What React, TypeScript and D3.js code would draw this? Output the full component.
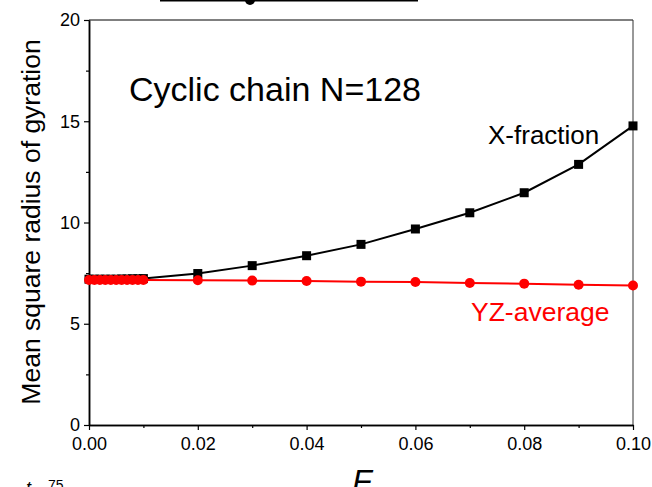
import React, { useEffect, useRef } from 'react';
import * as d3 from 'd3';

// F values (shared by both series)
const fValues = [0, 0.001, 0.002, 0.003, 0.004, 0.005, 0.006, 0.007, 0.008, 0.009, 0.01,
  0.02, 0.03, 0.04, 0.05, 0.06, 0.07, 0.08, 0.09, 0.1];
const xFraction = [7.2, 7.2, 7.2, 7.2, 7.2, 7.2, 7.21, 7.21, 7.22, 7.22, 7.23,
  7.48, 7.87, 8.36, 8.92, 9.68, 10.48, 11.47, 12.87, 14.77];
const yzAverage = [7.16, 7.16, 7.16, 7.16, 7.16, 7.16, 7.16, 7.16, 7.16, 7.16, 7.16,
  7.15, 7.13, 7.11, 7.08, 7.06, 7.01, 6.98, 6.93, 6.89];
const xTicks = [0, 0.02, 0.04, 0.06, 0.08, 0.1];
const xMinor = [0.01, 0.03, 0.05, 0.07, 0.09];
const yTicks = [0, 5, 10, 15, 20];
const yMinor = [2.5, 7.5, 12.5, 17.5];

const W = 652;
const H = 487;

export default function App() {
  const ref = useRef<SVGSVGElement>(null);

  useEffect(() => {
    const svg = d3.select(ref.current);
    svg.selectAll('*').remove();
    const font = 'Arial, "Liberation Sans", sans-serif';

    const x = d3.scaleLinear().domain([0, 0.1]).range([89, 633]);
    const y = d3.scaleLinear().domain([0, 20]).range([425, 20]);

    // remnants of the figure above
    svg.append('line').attr('x1', 160).attr('x2', 418).attr('y1', 0.5).attr('y2', 0.5)
      .attr('stroke', '#000').attr('stroke-width', 2);
    svg.append('circle').attr('cx', 250).attr('cy', 0).attr('r', 5).attr('fill', '#000');

    // frame
    svg.append('line').attr('x1', x(0)).attr('x2', x(0.1)).attr('y1', y(20)).attr('y2', y(20))
      .attr('stroke', '#000').attr('stroke-width', 1);
    svg.append('line').attr('x1', x(0.1)).attr('x2', x(0.1)).attr('y1', y(20)).attr('y2', y(0))
      .attr('stroke', '#333').attr('stroke-width', 1);

    const xAxis = svg.append('g').attr('transform', `translate(0,${y(0)})`)
      .call(d3.axisBottom(x).tickValues(xTicks).tickFormat(d3.format('.2f')).tickSize(5).tickSizeOuter(0));
    const xMin = svg.append('g').attr('transform', `translate(0,${y(0)})`)
      .call(d3.axisBottom(x).tickValues(xMinor).tickFormat(() => '').tickSize(3).tickSizeOuter(0));
    const yAxis = svg.append('g').attr('transform', `translate(${x(0)},0)`)
      .call(d3.axisLeft(y).tickValues(yTicks).tickSize(5).tickSizeOuter(0));
    const yMin = svg.append('g').attr('transform', `translate(${x(0)},0)`)
      .call(d3.axisLeft(y).tickValues(yMinor).tickFormat(() => '').tickSize(3).tickSizeOuter(0));

    [xAxis, xMin, yAxis, yMin].forEach(g => {
      g.select('.domain').attr('stroke', '#000').attr('stroke-width', 1.5);
      g.selectAll('.tick line').attr('stroke', '#000').attr('stroke-width', 1.2);
      g.selectAll('.tick text').attr('font-family', font).attr('font-size', 18).attr('fill', '#000');
    });
    xAxis.selectAll('.tick text').attr('dy', '0.95em');
    yAxis.selectAll('.tick text').attr('dx', '-0.05em');

    const line = d3.line<number>().x((d, i) => x(fValues[i])).y(d => y(d));

    svg.append('path').datum(xFraction).attr('d', line).attr('fill', 'none')
      .attr('stroke', '#000').attr('stroke-width', 2);
    svg.append('g').selectAll('rect').data(xFraction).enter().append('rect')
      .attr('x', (d, i) => x(fValues[i]) - 4.5).attr('y', d => y(d) - 4.5)
      .attr('width', 9).attr('height', 9).attr('fill', '#000');

    svg.append('path').datum(yzAverage).attr('d', line).attr('fill', 'none')
      .attr('stroke', '#ff0000').attr('stroke-width', 2);
    svg.append('g').selectAll('circle').data(yzAverage).enter().append('circle')
      .attr('cx', (d, i) => x(fValues[i])).attr('cy', d => y(d))
      .attr('r', 5).attr('fill', '#ff0000');

    svg.append('text').attr('x', 129).attr('y', 101).attr('font-family', font)
      .attr('font-size', 34).text('Cyclic chain N=128');
    svg.append('text').attr('x', 488).attr('y', 144).attr('font-family', font)
      .attr('font-size', 26).text('X-fraction');
    svg.append('text').attr('x', 471).attr('y', 321).attr('font-family', font)
      .attr('font-size', 26.5).attr('fill', '#ff0000').text('YZ-average');

    svg.append('text').attr('transform', `translate(40,222) rotate(-90)`)
      .attr('text-anchor', 'middle').attr('font-family', font).attr('font-size', 26.5)
      .text('Mean square radius of gyration');
    svg.append('text').attr('x', 362).attr('y', 492).attr('text-anchor', 'middle')
      .attr('font-family', font).attr('font-size', 32).attr('font-style', 'italic').text('F');

    svg.append('text').attr('x', 26).attr('y', 494).attr('font-family', font)
      .attr('font-size', 18).attr('font-style', 'italic').text('t');
    svg.append('text').attr('x', 48).attr('y', 490).attr('font-family', font)
      .attr('font-size', 14).text('75');
  }, []);

  return (
    <svg ref={ref} width={W} height={H}
      style={{ position: 'absolute', left: 0, top: 0, background: '#fff' }} />
  );
}
